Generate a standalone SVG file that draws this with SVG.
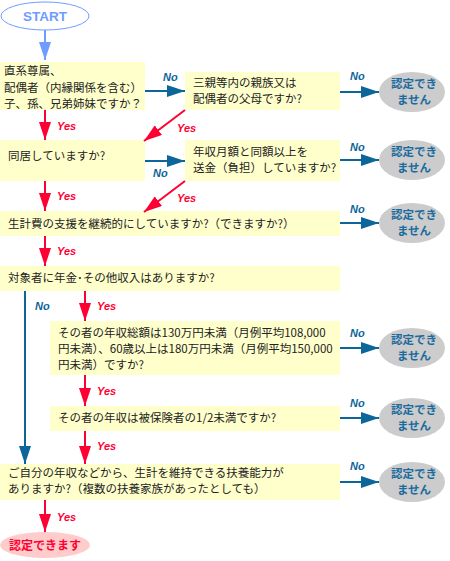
<svg xmlns="http://www.w3.org/2000/svg" width="450" height="561" viewBox="0 0 450 561">
<style>
.box{fill:#ffffcc;stroke:none}
.t{font-family:"Noto Sans CJK JP","Noto Sans",sans-serif;font-size:11.5px;fill:#222}
.ng ellipse{fill:#cccccc}
.ng text{font-family:"Noto Sans CJK JP",sans-serif;font-size:11.5px;font-weight:bold;fill:#1a6a9e;text-anchor:middle}
.no{font-family:"Liberation Sans",Arial,sans-serif;font-size:11px;font-weight:bold;font-style:italic;fill:#0d6699}
.yes{font-family:"Liberation Sans",Arial,sans-serif;font-size:11px;font-weight:bold;font-style:italic;fill:#ff0033}
.b{stroke:#0d6699;stroke-width:2;fill:none;marker-end:url(#ab)}
.r{stroke:#ff0033;stroke-width:2;fill:none;marker-end:url(#ar)}
</style>
<defs>
<marker id="ab" markerUnits="userSpaceOnUse" markerWidth="18" markerHeight="12" refX="18" refY="6" orient="auto"><path d="M0,0 L18,6 L0,12 z" fill="#0d6699"/></marker>
<marker id="ar" markerUnits="userSpaceOnUse" markerWidth="18" markerHeight="12" refX="18" refY="6" orient="auto"><path d="M0,0 L18,6 L0,12 z" fill="#ff0033"/></marker>
<marker id="al" markerUnits="userSpaceOnUse" markerWidth="18" markerHeight="12" refX="18" refY="6" orient="auto"><path d="M0,0 L18,6 L0,12 z" fill="#6f9cff"/></marker>
</defs>

<g id="start">
<ellipse cx="45" cy="16" rx="44" ry="14" fill="#fff" stroke="#6f9cff" stroke-width="1"/>
<text x="45" y="21" font-family="Liberation Sans,Arial,sans-serif" font-size="13.5" font-weight="bold" fill="#6f9cff" text-anchor="middle">START</text>
</g>

<g id="q1"><rect class="box" x="0" y="62" width="145" height="48"/>
<text class="t" x="4" y="75">直系尊属、</text>
<text class="t" x="4" y="92">配偶者（内縁関係を含む）</text>
<text class="t" x="4" y="108">子、孫、兄弟姉妹ですか？</text></g>

<g id="q2"><rect class="box" x="185" y="72" width="155" height="38"/>
<text class="t" x="193" y="87">三親等内の親族又は</text>
<text class="t" x="193" y="103">配偶者の父母ですか?</text></g>

<g id="q3"><rect class="box" x="0" y="140" width="145" height="41"/>
<text class="t" x="8" y="160">同居していますか?</text></g>

<g id="q4"><rect class="box" x="185" y="140" width="155" height="41"/>
<text class="t" x="193" y="156">年収月額と同額以上を</text>
<text class="t" x="193" y="172">送金（負担）していますか?</text></g>

<g id="q5"><rect class="box" x="0" y="211" width="340" height="25"/>
<text class="t" x="8" y="228">生計費の支援を継続的にしていますか?（できますか?）</text></g>

<g id="q6"><rect class="box" x="0" y="266" width="340" height="25"/>
<text class="t" x="8" y="282">対象者に年金･その他収入はありますか?</text></g>

<g id="q7"><rect class="box" x="50" y="321" width="290" height="54"/>
<text class="t" x="58" y="337">その者の年収総額は130万円未満（月例平均108,000</text>
<text class="t" x="58" y="353">円未満）、60歳以上は180万円未満（月例平均150,000</text>
<text class="t" x="58" y="369">円未満）ですか?</text></g>

<g id="q8"><rect class="box" x="50" y="406" width="290" height="25"/>
<text class="t" x="58" y="422">その者の年収は被保険者の1/2未満ですか?</text></g>

<g id="q9"><rect class="box" x="0" y="464" width="340" height="36"/>
<text class="t" x="8" y="477">ご自分の年収などから、生計を維持できる扶養能力が</text>
<text class="t" x="8" y="493">ありますか?（複数の扶養家族があったとしても）</text></g>

<g id="ng1" class="ng"><ellipse cx="412" cy="92" rx="33" ry="20"/><text x="414" y="88">認定でき</text><text x="414" y="104">ません</text></g>
<g id="ng2" class="ng"><ellipse cx="412" cy="160" rx="33" ry="20"/><text x="414" y="156">認定でき</text><text x="414" y="172">ません</text></g>
<g id="ng3" class="ng"><ellipse cx="412" cy="223" rx="33" ry="20"/><text x="414" y="219">認定でき</text><text x="414" y="235">ません</text></g>
<g id="ng4" class="ng"><ellipse cx="412" cy="348" rx="33" ry="20"/><text x="414" y="344">認定でき</text><text x="414" y="360">ません</text></g>
<g id="ng5" class="ng"><ellipse cx="412" cy="418" rx="33" ry="20"/><text x="414" y="414">認定でき</text><text x="414" y="430">ません</text></g>
<g id="ng6" class="ng"><ellipse cx="412" cy="482" rx="33" ry="20"/><text x="414" y="478">認定でき</text><text x="414" y="494">ません</text></g>

<g id="ok"><ellipse cx="45" cy="545" rx="45" ry="13" fill="#ffcccc"/>
<text x="45" y="549.5" font-family="Noto Sans CJK JP,sans-serif" font-size="12" font-weight="bold" fill="#ff0033" text-anchor="middle">認定できます</text></g>

<g id="connectors">
<line x1="45" y1="30" x2="45" y2="60" stroke="#6f9cff" stroke-width="2" marker-end="url(#al)"/>
<line class="b" x1="145" y1="91" x2="185" y2="91"/>
<line class="b" x1="340" y1="92" x2="379" y2="92"/>
<line class="r" x1="45" y1="110" x2="45" y2="140"/>
<line class="r" x1="185" y1="110" x2="144" y2="141"/>
<line class="b" x1="145" y1="161" x2="185" y2="161"/>
<line class="b" x1="340" y1="160" x2="379" y2="160"/>
<line class="r" x1="45" y1="181" x2="45" y2="211"/>
<line class="r" x1="185" y1="181" x2="144" y2="212"/>
<line class="b" x1="340" y1="223" x2="379" y2="223"/>
<line class="r" x1="45" y1="236" x2="45" y2="266"/>
<line class="b" x1="25" y1="291" x2="25" y2="464"/>
<line class="r" x1="85" y1="291" x2="85" y2="321"/>
<line class="b" x1="340" y1="348" x2="379" y2="348"/>
<line class="r" x1="85" y1="375" x2="85" y2="406"/>
<line class="b" x1="340" y1="418" x2="379" y2="418"/>
<line class="r" x1="85" y1="431" x2="85" y2="464"/>
<line class="b" x1="340" y1="482" x2="379" y2="482"/>
<line class="r" x1="45" y1="500" x2="45" y2="532"/>
<text class="no" x="163" y="81">No</text>
<text class="no" x="350" y="80">No</text>
<text class="yes" x="57" y="130">Yes</text>
<text class="yes" x="177" y="132">Yes</text>
<text class="no" x="153" y="177">No</text>
<text class="no" x="350" y="151">No</text>
<text class="yes" x="57" y="200">Yes</text>
<text class="yes" x="177" y="202">Yes</text>
<text class="no" x="350" y="213">No</text>
<text class="yes" x="57" y="255">Yes</text>
<text class="no" x="35" y="310">No</text>
<text class="yes" x="97" y="310">Yes</text>
<text class="no" x="350" y="337">No</text>
<text class="yes" x="97" y="395">Yes</text>
<text class="no" x="350" y="407">No</text>
<text class="yes" x="97" y="450">Yes</text>
<text class="no" x="350" y="470">No</text>
<text class="yes" x="57" y="521">Yes</text>
</g>
</svg>
